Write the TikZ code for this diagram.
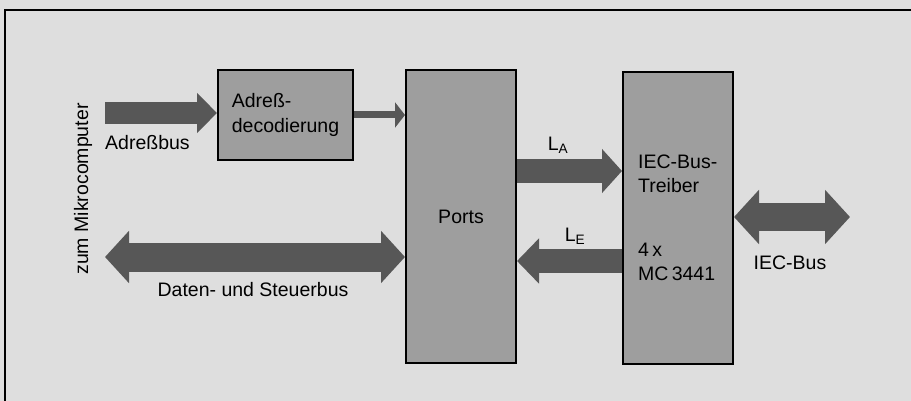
\documentclass[tikz,border=0pt]{standalone}
\usepackage{fontspec}
\setmainfont{Liberation Sans}
\usetikzlibrary{arrows.meta}
\definecolor{paper}{gray}{0.87}
\definecolor{blockgray}{gray}{0.62}
\definecolor{busgray}{gray}{0.34}
\tikzset{
  block/.style={draw=black, line width=2pt, fill=blockgray, anchor=north west, inner sep=0pt,
    font=\fontsize{19.5}{25}\selectfont, align=left},
  lbl/.style={font=\fontsize{19.5}{24}\selectfont, inner sep=0pt, align=left},
  bus/.style n args={3}{draw=busgray, line width=#1, -{Triangle[width=#2,length=#3]}},
  dbus/.style n args={3}{draw=busgray, line width=#1, {Triangle[width=#2,length=#3]}-{Triangle[width=#2,length=#3]}}
}

\begin{document}
\begin{tikzpicture}[x=1pt,y=-1pt]
\useasboundingbox[fill=paper] (0,0) rectangle (911,401);
\draw[line width=2pt] (5,401) -- (5,10) -- (911,10);
% blocks
\node[block, minimum width=135pt, minimum height=90pt] (adrdec) at (217,69) {Adreß-\\decodierung};
\node[block, minimum width=110pt, minimum height=293pt] (ports) at (405,69) {Ports};
\node[block, minimum width=110pt, minimum height=292pt] (iec) at (622,71) {};
\node[lbl, anchor=west] (treiber) at (638,174) {IEC-Bus-\\Treiber};
\node[lbl, anchor=west] (mc) at (638,262) {4\,x\\MC\,3441};
% free ends
\coordinate (adrin) at (105,113);
\coordinate (dsend) at (105,257);
\coordinate (iecend) at (850,217);
% buses
\draw[bus={22pt}{39pt}{20pt}] (adrin) -- (adrdec.west |- adrin);
\draw[bus={7pt}{25pt}{10pt}] (adrdec.east |- 0,115) -- (ports.west |- 0,115);
\draw[bus={24pt}{43pt}{20pt}] (ports.east |- 0,171) -- (iec.west |- 0,171);
\draw[bus={24pt}{44pt}{22pt}] (iec.west |- 0,261) -- (ports.east |- 0,261);
\draw[dbus={29pt}{51pt}{24pt}] (dsend) -- (ports.west |- dsend);
\draw[dbus={28pt}{53pt}{25pt}] (iec.east |- iecend) -- (iecend);
% labels
\node[lbl, rotate=90] (mikro) at (83,189) {zum Mikrocomputer};
\node[lbl, anchor=west] (adrbus) at (105,143) {Adreßbus};
\node[lbl] (la) at (558,145) {L\textsubscript{A}};
\node[lbl] (le) at (575,236) {L\textsubscript{E}};
\node[lbl] (dsbus) at (253,290) {Daten- und Steuerbus};
\node[lbl] (iecbus) at (790,263) {IEC-Bus};
\end{tikzpicture}
\end{document}
